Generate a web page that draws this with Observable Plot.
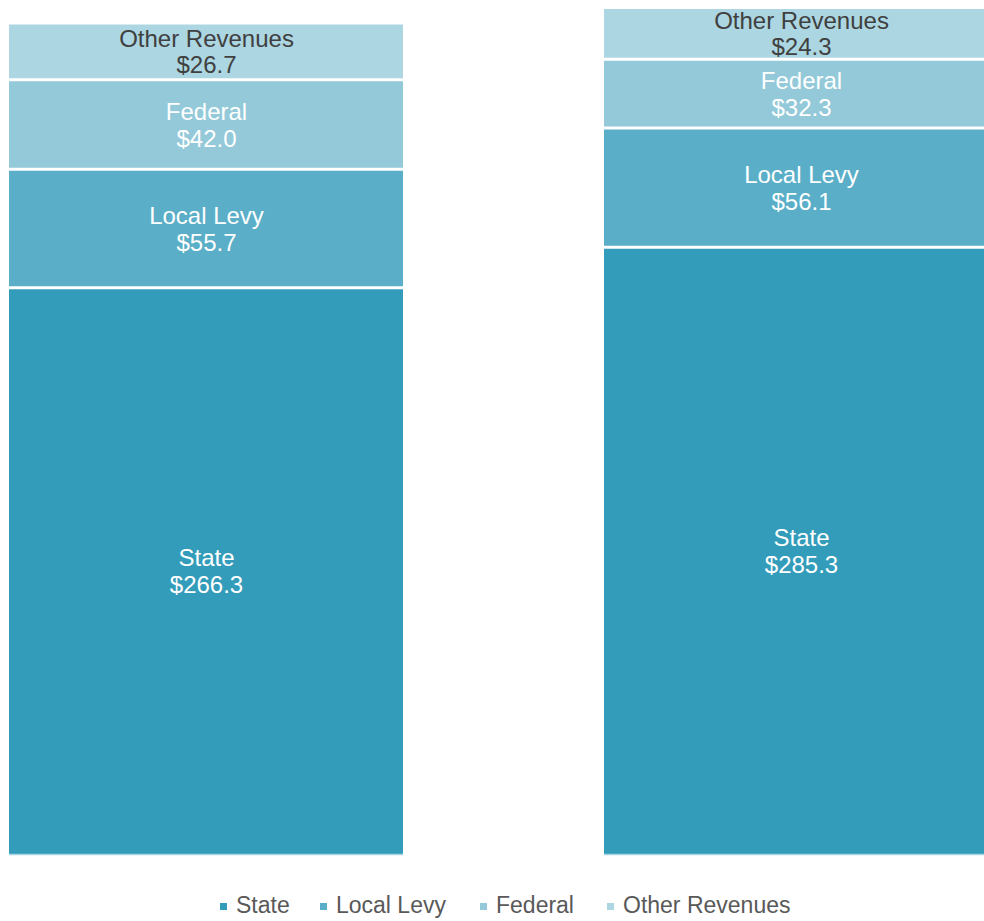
<!DOCTYPE html>
<html>
<head>
<meta charset="utf-8">
<script src="https://cdn.jsdelivr.net/npm/d3@7"></script>
<script src="https://cdn.jsdelivr.net/npm/@observablehq/plot@0.6"></script>
<style>
  html, body { margin: 0; padding: 0; background: #fff; }
  body { width: 984px; height: 921px; overflow: hidden; font-family: "Liberation Sans", Arial, sans-serif; }
  #chart svg { display: block; }
  #legend { position: relative; height: 33px; }
  .item { position: absolute; top: 1px; height: 33px; display: flex; align-items: center; font-size: 23px; color: #595959; white-space: nowrap; }
  .sw { width: 7px; height: 7px; margin-right: 9px; margin-top: 2px; }
</style>
</head>
<body>
<div id="chart"></div>
<div id="legend"></div>
<script>
const categories = ["Bar 1", "Bar 2"];
const sources = ["State", "Local Levy", "Federal", "Other Revenues"];
const colors = ["#339cba", "#5aaec7", "#93c9d8", "#acd6e1"];
const bar1Values = [266.3, 55.7, 42.0, 26.7];
const bar2Values = [285.3, 56.1, 32.3, 24.3];
const legendLeft = [220, 320, 480, 607];

const rows = [];
[bar1Values, bar2Values].forEach((vals, i) => {
  vals.forEach((v, j) => rows.push({cat: categories[i], source: sources[j], value: v}));
});

const stackOpts = {x: "cat", y: "value", z: "source", order: sources};
const label = d => `${d.source}\n$${d.value.toFixed(1)}`;
const isOther = d => d.source === "Other Revenues";

const chart = Plot.plot({
  width: 984,
  height: 888,
  marginTop: 7, marginBottom: 34, marginLeft: 8, marginRight: 0,
  style: {fontFamily: "'Liberation Sans', Arial, sans-serif", background: "#fff"},
  x: {domain: categories, range: [8, 999], paddingInner: 0.337, paddingOuter: 0, axis: null},
  y: {domain: [0, 398], range: [854, 7], axis: null},
  color: {domain: sources, range: colors},
  marks: [
    Plot.barY(rows, Plot.stackY({...stackOpts, fill: "source"})),
    Plot.tickY(rows, Plot.stackY2({...stackOpts, stroke: "white", strokeWidth: 3})),
    Plot.tickY(categories, {x: d => d, y: () => 0, stroke: "#a9d4e1", strokeWidth: 1.5}),
    Plot.text(rows, Plot.stackY({...stackOpts, text: d => isOther(d) ? null : label(d), fill: "white", fontSize: 24, lineHeight: 1.12})),
    Plot.text(rows, Plot.stackY({...stackOpts, text: d => isOther(d) ? label(d) : null, fill: "#404040", fontSize: 24, lineHeight: 1.12}))
  ]
});
document.getElementById("chart").appendChild(chart);

const legend = document.getElementById("legend");
sources.forEach((s, i) => {
  const item = document.createElement("div");
  item.className = "item";
  item.style.left = legendLeft[i] + "px";
  const sw = document.createElement("span");
  sw.className = "sw";
  sw.style.background = colors[i];
  const t = document.createElement("span");
  t.textContent = s;
  item.appendChild(sw);
  item.appendChild(t);
  legend.appendChild(item);
});
</script>
</body>
</html>
